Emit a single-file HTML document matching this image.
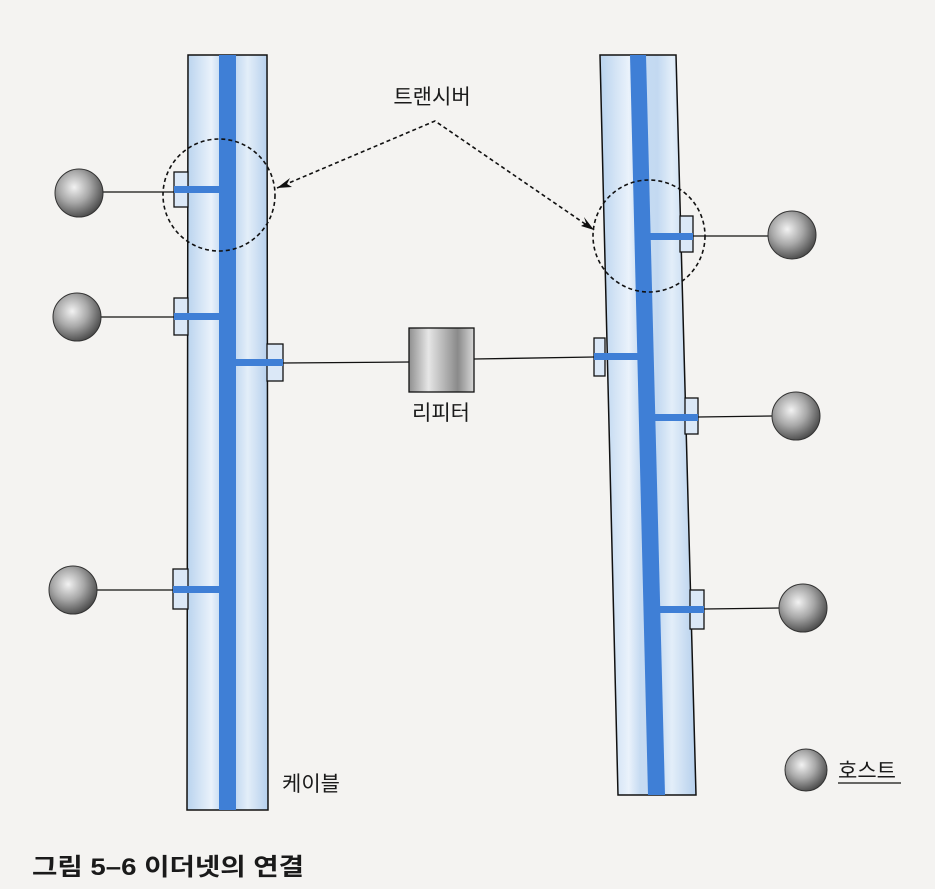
<!DOCTYPE html>
<html><head><meta charset="utf-8"><style>
html,body{margin:0;padding:0;background:#f4f3f1;}
svg{display:block}
text{font-family:"Liberation Sans","Noto Sans CJK KR",sans-serif;fill:#1a1a1a}
</style></head><body>
<svg width="935" height="889" viewBox="0 0 935 889" xmlns="http://www.w3.org/2000/svg">
<defs>
<radialGradient id="ball" cx="0.4" cy="0.38" r="0.65">
<stop offset="0" stop-color="#f2f2f2"/><stop offset="0.5" stop-color="#a8a8a8"/><stop offset="1" stop-color="#4a4a4a"/>
</radialGradient>
<linearGradient id="rep" x1="0" x2="1">
<stop offset="0" stop-color="#8f8f8f"/><stop offset="0.3" stop-color="#e6e6e6"/><stop offset="0.75" stop-color="#8a8a8a"/><stop offset="1" stop-color="#d8d8d8"/>
</linearGradient>
<linearGradient id="cab" x1="0" x2="1">
<stop offset="0" stop-color="#b9d3ee"/><stop offset="0.3" stop-color="#eaf2fb"/><stop offset="0.42" stop-color="#c6dbf2"/><stop offset="0.6" stop-color="#c3d9f1"/><stop offset="0.75" stop-color="#e3eef9"/><stop offset="1" stop-color="#b5cfec"/>
</linearGradient>
<marker id="ah" markerWidth="10" markerHeight="8" refX="9" refY="4" orient="auto" markerUnits="userSpaceOnUse">
<path d="M0,0 L10,4 L0,8 L3,4 Z" fill="#111"/>
</marker>
</defs>

<!-- left cable -->
<polygon points="188,55 267,55 268,810 187,810" fill="url(#cab)" stroke="#111" stroke-width="1.5"/>
<rect x="219" y="55" width="17" height="755" fill="#3f7fd6"/>
<!-- right cable -->
<polygon points="600,55 676,55 696,795 618,795" fill="url(#cab)" stroke="#111" stroke-width="1.5"/>
<polygon points="630,55 646,55 665,795 648,795" fill="#3f7fd6"/>

<!-- left cable stubs -->
<g stroke="#111" stroke-width="1.3" fill="#dbe8f7">
<rect x="174" y="172" width="14" height="35"/>
<rect x="174" y="298" width="14" height="37"/>
<rect x="173" y="569" width="15" height="40"/>
<rect x="267" y="344" width="16" height="37"/>
<rect x="594" y="338" width="11" height="38"/>
<rect x="680" y="216" width="13" height="36"/>
<rect x="685" y="398" width="13" height="36"/>
<rect x="690" y="590" width="14" height="39"/>
</g>
<g fill="#3f7fd6">
<rect x="174" y="186" width="46" height="7"/>
<rect x="174" y="313" width="46" height="7"/>
<rect x="173" y="586" width="47" height="7"/>
<rect x="235" y="359" width="48" height="7"/>
<rect x="594" y="353" width="44" height="7"/>
<rect x="650" y="233" width="43" height="7"/>
<rect x="654" y="414" width="44" height="7"/>
<rect x="660" y="606" width="44" height="7"/>
</g>

<!-- wires -->
<g stroke="#111" stroke-width="1.3">
<line x1="103" y1="192" x2="174" y2="192"/>
<line x1="101" y1="317" x2="174" y2="317"/>
<line x1="97" y1="590" x2="173" y2="590"/>
<line x1="283" y1="363" x2="409" y2="362"/>
<line x1="474" y1="359" x2="594" y2="357"/>
<line x1="693" y1="236" x2="768" y2="236"/>
<line x1="698" y1="417" x2="772" y2="416"/>
<line x1="704" y1="609" x2="779" y2="608"/>
</g>

<!-- hosts -->
<g fill="url(#ball)" stroke="#333" stroke-width="1">
<circle cx="79" cy="193" r="24"/>
<circle cx="77" cy="317" r="24"/>
<circle cx="73" cy="590" r="24"/>
<circle cx="792" cy="235" r="24"/>
<circle cx="796" cy="416" r="24"/>
<circle cx="803" cy="608" r="24"/>
<circle cx="806" cy="770" r="21"/>
</g>

<!-- repeater -->
<rect x="409" y="328" width="65" height="64" fill="url(#rep)" stroke="#111" stroke-width="1.3"/>

<!-- dashed circles and arrows -->
<g fill="none" stroke="#111" stroke-width="1.6" stroke-dasharray="4,3">
<circle cx="219" cy="195" r="56"/>
<circle cx="649" cy="236" r="56"/>
<polyline points="277,188 435,121 594,230" marker-start="url(#ahs)"/>
</g>
<path d="M277,188 L290,178 L287,184 L292,187 Z" fill="#111"/>
<path d="M594,230 L581,226 L586,223 L584,217 Z" fill="#111"/>

<!-- labels -->
<text x="432" y="104" font-size="21" text-anchor="middle">트랜시버</text>
<text x="441" y="420" font-size="21" text-anchor="middle">리피터</text>
<text x="282" y="791" font-size="21">케이블</text>
<text x="838" y="778" font-size="21">호스트</text>
<line x1="838" y1="783" x2="901" y2="783" stroke="#111" stroke-width="1.3"/>
<text x="32" y="875" font-size="24" font-weight="bold" textLength="272" lengthAdjust="spacingAndGlyphs">그림 5–6  이더넷의 연결</text>
</svg>
</body></html>
